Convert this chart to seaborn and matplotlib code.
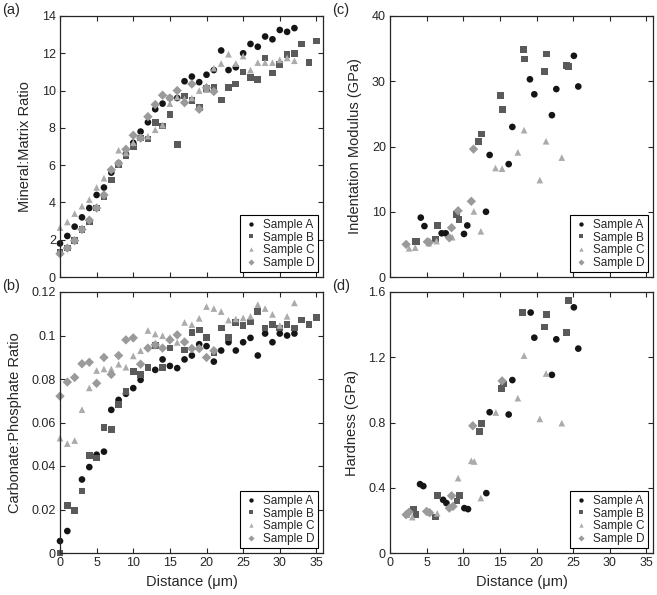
import matplotlib
matplotlib.use("Agg")
import matplotlib.pyplot as plt
import pandas as pd
import seaborn as sns

samples = ["Sample A", "Sample B", "Sample C", "Sample D"]
colors = {"Sample A": "#151515", "Sample B": "#5a5a5a",
          "Sample C": "#ababab", "Sample D": "#9a9a9a"}
markers = {"Sample A": "o", "Sample B": "s", "Sample C": "^", "Sample D": "D"}

# (a) mineral:matrix ratio vs distance
a_x_A = [0, 1, 2, 3, 4, 5, 6, 7, 8, 9, 10, 11, 12, 13, 14, 15, 16, 17, 18, 19, 20,
         21, 22, 23, 24, 25, 26, 27, 28, 29, 30, 31, 32]
a_y_A = [1.8, 2.2, 2.7, 3.2, 3.7, 4.4, 4.8, 5.6, 6.1, 6.6, 7.2, 7.8, 8.3, 9.0, 9.3,
         9.6, 9.6, 10.5, 10.75, 10.45, 10.85, 11.1, 12.15, 11.1, 11.25, 12.0, 12.5,
         12.35, 12.9, 12.75, 13.25, 13.15, 13.35]
a_x_B = [0, 1, 2, 3, 4, 5, 6, 7, 8, 9, 10, 11, 12, 13, 14, 15, 16, 17, 18, 19, 20,
         21, 22, 23, 24, 25, 26, 27, 28, 29, 30, 31, 32, 33, 34, 35]
a_y_B = [1.3, 1.55, 1.95, 2.55, 2.95, 3.7, 4.3, 5.2, 6.0, 6.5, 7.0, 7.45, 7.4, 8.3,
         8.1, 8.7, 7.1, 9.7, 9.45, 9.1, 10.1, 10.15, 9.5, 10.15, 10.35, 11.0, 10.7,
         10.6, 11.75, 10.95, 11.4, 11.95, 12.0, 12.5, 11.5, 12.65]
a_x_C = [0, 1, 2, 3, 4, 5, 6, 7, 8, 9, 10, 11, 12, 13, 14, 15, 16, 17, 18, 19, 20,
         21, 22, 23, 24, 25, 26, 27, 28, 29, 30, 31, 32]
a_y_C = [2.65, 2.95, 3.4, 3.8, 4.15, 4.8, 5.3, 5.8, 6.8, 6.65, 7.2, 7.5, 7.55, 7.9,
         8.15, 9.3, 9.65, 9.55, 9.6, 10.0, 10.05, 11.2, 11.45, 11.95, 11.45, 11.85,
         11.1, 11.5, 11.5, 11.5, 11.65, 11.75, 11.6]
a_x_D = [0, 1, 2, 3, 4, 5, 6, 7, 8, 9, 10, 11, 12, 13, 14, 15, 16, 17, 18, 19, 20, 21]
a_y_D = [1.25, 1.55, 1.95, 2.55, 3.05, 3.7, 4.4, 5.75, 6.1, 6.85, 7.6, 7.45, 8.6,
         9.25, 9.75, 9.6, 10.0, 9.35, 10.35, 9.0, 10.15, 9.95]

# (b) carbonate:phosphate ratio vs distance
b_x_A = [0, 1, 3, 4, 5, 6, 7, 8, 9, 10, 11, 13, 14, 15, 16, 17, 18, 19, 20, 21, 22,
         23, 24, 25, 26, 27, 28, 29, 30, 31, 32]
b_y_A = [0.0055, 0.0101, 0.0338, 0.0395, 0.0452, 0.0466, 0.0658, 0.0704, 0.0732,
         0.0758, 0.0796, 0.0842, 0.089, 0.086, 0.085, 0.089, 0.0908, 0.096, 0.0951,
         0.088, 0.0931, 0.0969, 0.0931, 0.0969, 0.0989, 0.0908, 0.1009, 0.0969,
         0.1009, 0.1, 0.1009]
b_x_B = [0, 1, 2, 3, 4, 5, 6, 7, 8, 9, 10, 11, 12, 13, 14, 15, 17, 18, 19, 20, 21,
         22, 23, 24, 25, 26, 27, 28, 29, 30, 31, 32, 33, 34, 35]
b_y_B = [0.0, 0.0219, 0.0194, 0.0285, 0.0447, 0.0437, 0.0577, 0.0568, 0.0683,
         0.0742, 0.0834, 0.0822, 0.0852, 0.0953, 0.0852, 0.0943, 0.0933, 0.1013,
         0.1025, 0.0992, 0.0922, 0.1035, 0.0992, 0.1059, 0.1045, 0.1062, 0.1111,
         0.1035, 0.1052, 0.1035, 0.1052, 0.1035, 0.1072, 0.1052, 0.1082]
b_x_C = [0, 1, 2, 3, 4, 5, 6, 7, 8, 9, 10, 11, 12, 13, 14, 15, 16, 17, 18, 19, 20,
         21, 22, 23, 24, 25, 26, 27, 28, 29, 30, 31, 32]
b_y_C = [0.0528, 0.0503, 0.0517, 0.0659, 0.0759, 0.0839, 0.0846, 0.0846, 0.0868,
         0.0854, 0.0906, 0.093, 0.1023, 0.1007, 0.0999, 0.0991, 0.0968, 0.106,
         0.105, 0.1079, 0.1133, 0.1124, 0.111, 0.1071, 0.1076, 0.1081, 0.1088,
         0.1142, 0.1124, 0.1097, 0.1046, 0.1088, 0.115]
b_x_D = [0, 1, 2, 3, 4, 5, 6, 7, 8, 9, 10, 11, 12, 13, 14, 15, 16, 17, 18, 19, 20, 21]
b_y_D = [0.0721, 0.0786, 0.0807, 0.087, 0.0877, 0.078, 0.0899, 0.0821, 0.0908,
         0.098, 0.0989, 0.0868, 0.0942, 0.0957, 0.0942, 0.098, 0.1003, 0.097,
         0.094, 0.094, 0.0899, 0.093]

# (c) indentation modulus (GPa)
c_x_A = [4.2, 4.7, 7.05, 7.6, 10.1, 10.55, 13.1, 13.6, 16.2, 16.7, 19.1, 19.7,
         22.1, 22.7, 25.1, 25.7]
c_y_A = [9.1, 7.8, 6.7, 6.7, 6.6, 7.9, 10.0, 18.7, 17.3, 23.0, 30.3, 28.0, 24.8,
         28.8, 33.9, 29.2]
c_x_B = [3.4, 3.6, 6.2, 6.45, 9.1, 9.4, 12.1, 12.5, 15.1, 15.4, 18.2, 18.4, 21.1,
         21.4, 24.05, 24.35]
c_y_B = [5.4, 5.4, 5.8, 7.9, 9.6, 8.8, 20.8, 21.9, 27.8, 25.7, 34.9, 33.4, 31.5,
         34.2, 32.4, 32.3]
c_x_C = [2.6, 3.45, 5.3, 6.35, 8.5, 11.45, 12.4, 14.4, 15.3, 17.45, 18.3, 20.45,
         21.3, 23.45]
c_y_C = [4.4, 4.5, 5.2, 5.5, 6.1, 10.05, 7.0, 16.7, 16.6, 19.1, 22.5, 14.85, 20.8,
         18.3]
c_x_D = [2.2, 5.1, 5.35, 8.1, 8.4, 9.3, 11.1, 11.4]
c_y_D = [5.0, 5.4, 5.3, 6.0, 7.55, 10.15, 11.6, 19.6]

# (d) hardness (GPa)
d_x_A = [4.1, 4.55, 7.25, 7.7, 10.15, 10.65, 13.15, 13.6, 16.2, 16.7, 19.2, 19.7,
         22.1, 22.7, 25.1, 25.7]
d_y_A = [0.422, 0.41, 0.326, 0.306, 0.275, 0.269, 0.367, 0.863, 0.849, 1.06,
         1.474, 1.32, 1.092, 1.31, 1.506, 1.253]
d_x_B = [3.25, 3.55, 6.2, 6.45, 9.15, 9.45, 12.2, 12.5, 15.2, 15.45, 18.1, 21.1,
         21.4, 24.1, 24.4]
d_y_B = [0.267, 0.235, 0.22, 0.351, 0.318, 0.351, 0.743, 0.794, 1.01, 1.035,
         1.476, 1.386, 1.463, 1.353, 1.547]
d_x_C = [2.35, 3.05, 5.3, 6.45, 9.3, 11.1, 11.5, 12.4, 14.45, 17.45, 18.3, 20.45,
         21.3, 23.45]
d_y_C = [0.235, 0.22, 0.25, 0.243, 0.459, 0.565, 0.561, 0.337, 0.861, 0.949,
         1.21, 0.822, 1.1, 0.796]
d_x_D = [2.2, 2.6, 5.0, 5.4, 8.1, 8.4, 8.6, 11.3, 15.3]
d_y_D = [0.235, 0.25, 0.255, 0.247, 0.275, 0.351, 0.286, 0.78, 1.055]

x_ticks = [0, 5, 10, 15, 20, 25, 30, 35]
a_ticks = [0, 2, 4, 6, 8, 10, 12, 14]
b_ticks = [0, 0.02, 0.04, 0.06, 0.08, 0.1, 0.12]
b_ticklabels = ["0", "0.02", "0.04", "0.06", "0.08", "0.1", "0.12"]
c_ticks = [0, 10, 20, 30, 40]
d_ticks = [0, 0.4, 0.8, 1.2, 1.6]
d_ticklabels = ["0", "0.4", "0.8", "1.2", "1.6"]


def long_form(xs, ys):
    frames = []
    for name, x, y in zip(samples, xs, ys):
        frames.append(pd.DataFrame({"distance": x, "value": y, "sample": name}))
    return pd.concat(frames, ignore_index=True)


sns.set_style("ticks")
plt.rcParams["font.family"] = ["Liberation Sans", "DejaVu Sans"]

fig = plt.figure(figsize=(6.57, 5.95), dpi=100)
W, H = 657, 595
boxes = {
    "a": (60, 16), "b": (60, 292), "c": (390, 16), "d": (390, 292),
}
aw, ah = 263, 261

panels = [
    ("a", long_form([a_x_A, a_x_B, a_x_C, a_x_D], [a_y_A, a_y_B, a_y_C, a_y_D]),
     "Mineral:Matrix Ratio", (0, 14), a_ticks, None, False),
    ("b", long_form([b_x_A, b_x_B, b_x_C, b_x_D], [b_y_A, b_y_B, b_y_C, b_y_D]),
     "Carbonate:Phosphate Ratio", (0, 0.12), b_ticks, b_ticklabels, True),
    ("c", long_form([c_x_A, c_x_B, c_x_C, c_x_D], [c_y_A, c_y_B, c_y_C, c_y_D]),
     "Indentation Modulus (GPa)", (0, 40), c_ticks, None, False),
    ("d", long_form([d_x_A, d_x_B, d_x_C, d_x_D], [d_y_A, d_y_B, d_y_C, d_y_D]),
     "Hardness (GPa)", (0, 1.6), d_ticks, d_ticklabels, True),
]

for key, df, ylabel, ylim, yticks, yticklabels, show_x in panels:
    left, top = boxes[key]
    ax = fig.add_axes([left / W, 1 - (top + ah) / H, aw / W, ah / H])
    sns.scatterplot(data=df, x="distance", y="value", hue="sample", style="sample",
                    palette=colors, markers=markers, s=23, linewidth=0,
                    clip_on=False, ax=ax)
    ax.set_xlim(0, 35.9)
    ax.set_ylim(*ylim)
    ax.set_xticks(x_ticks)
    ax.set_yticks(yticks)
    if yticklabels:
        ax.set_yticklabels(yticklabels)
    ax.tick_params(direction="in", top=True, right=True, length=3.5, width=0.8,
                   labelsize=9, pad=3)
    for sp in ax.spines.values():
        sp.set_linewidth(0.9)
    ax.set_ylabel(ylabel, fontsize=10.5, labelpad=7)
    if show_x:
        ax.set_xlabel("Distance (\u03bcm)", fontsize=10.5, labelpad=4)
    else:
        ax.set_xlabel("")
        ax.set_xticklabels([])
    handles, labels = ax.get_legend_handles_labels()
    leg = ax.legend(handles, labels, loc="lower right", frameon=True,
                    fancybox=False, edgecolor="black", framealpha=1, fontsize=8.5,
                    markerscale=0.65, handletextpad=0.4, labelspacing=0.05,
                    borderpad=0.3, borderaxespad=0.4, handlelength=1.3)
    leg.get_frame().set_linewidth(0.8)
    fig.text((left - 58) / W, 1 - (top - 13) / H, f"({key})", fontsize=10.5,
             va="top", ha="left")

fig.savefig("out.png", dpi=100)
